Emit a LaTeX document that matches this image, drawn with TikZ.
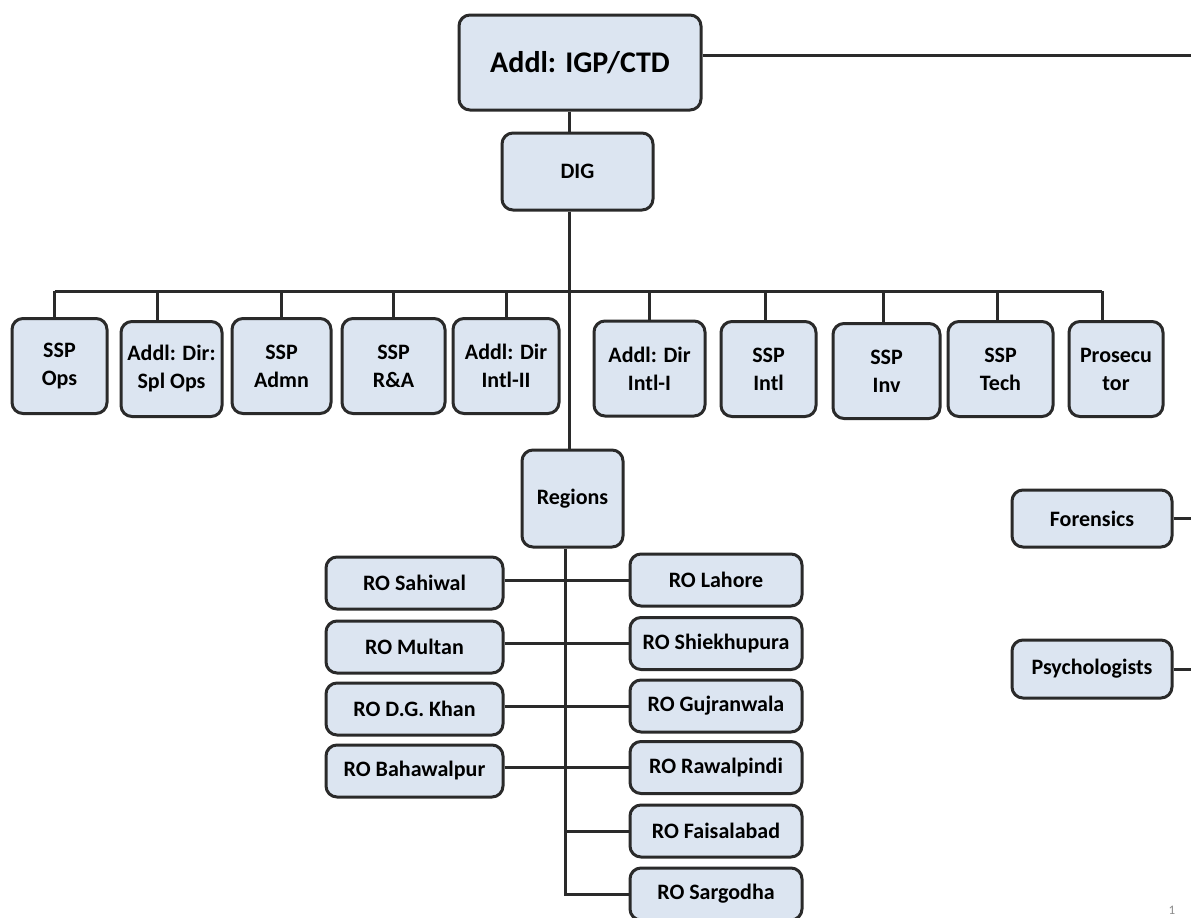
\documentclass[tikz,border=0pt]{standalone}
\usepackage{fontspec}
\setmainfont{Carlito}
\usepackage{tikz}

\definecolor{boxblue}{HTML}{DCE5F1}
\definecolor{boxline}{HTML}{2A2A2A}
\tikzset{
  box/.style={draw=boxline, line width=3pt, rounded corners=11pt, fill=boxblue,
    align=center, inner sep=0pt, font=\fontsize{22}{28}\selectfont\bfseries},
  unit/.style={box, minimum height=95pt},
  ro/.style={box, minimum height=52pt},
  link/.style={draw=boxline, line width=3pt}
}

\begin{document}
\begin{tikzpicture}[x=1pt, y=-1pt]
    \useasboundingbox[fill=white] (0,0) rectangle (1191,918);

    \node[box, minimum width=242pt, minimum height=95pt, font=\fontsize{30}{36}\selectfont\bfseries] (ctd) at (580,62.5) {Addl: IGP/CTD};
    \node[box, minimum width=151pt, minimum height=77pt] (dig) at (577.5,171.5) {DIG};
    \node[box, minimum width=101pt, minimum height=97pt] (regions) at (572.5,498.5) {Regions};

    % top row
    \node[unit, minimum width=95pt]  (ops)   at (59.5,366)   {SSP\\Ops};
    \node[unit, minimum width=101pt] (splops) at (171.5,369) {Addl: Dir:\\Spl Ops};
    \node[unit, minimum width=99pt]  (admn)  at (281.5,366)  {SSP\\Admn};
    \node[unit, minimum width=103pt] (rna)   at (393.5,366)  {SSP\\R\&A};
    \node[unit, minimum width=106pt] (int2)  at (506,366)    {Addl: Dir\\Intl-II};
    \node[unit, minimum width=111pt] (int1)  at (649.5,368.5) {Addl: Dir\\Intl-I};
    \node[unit, minimum width=95pt]  (intl)  at (768.5,369)  {SSP\\Intl};
    \node[unit, minimum width=107pt] (inv)   at (886.5,371)  {SSP\\Inv};
    \node[unit, minimum width=105pt] (tech)  at (1000.5,369) {SSP\\Tech};
    \node[unit, minimum width=94pt]  (pros)  at (1116,369)   {Prosecu\\tor};

    % regional offices
    \node[ro, minimum width=177pt] (sahiwal)    at (414.5,583) {RO Sahiwal};
    \node[ro, minimum width=177pt] (multan)     at (414.5,647) {RO Multan};
    \node[ro, minimum width=177pt] (dgkhan)     at (414.5,709) {RO D.G. Khan};
    \node[ro, minimum width=177pt] (bahawalpur) at (414.5,771) {RO Bahawalpur};
    \node[ro, minimum width=172pt] (lahore)     at (716,580)   {RO Lahore};
    \node[ro, minimum width=172pt] (shiekh)     at (716,643.5) {RO Shiekhupura};
    \node[ro, minimum width=172pt] (gujran)     at (716,706)   {RO Gujranwala};
    \node[ro, minimum width=172pt] (pindi)      at (716,767.5) {RO Rawalpindi};
    \node[ro, minimum width=172pt] (faisal)     at (716,831)   {RO Faisalabad};
    \node[ro, minimum width=172pt] (sargodha)   at (716,894)   {RO Sargodha};

    \node[box, minimum width=160pt, minimum height=57pt] (forensics) at (1092,518.5) {Forensics};
    \node[box, minimum width=160pt, minimum height=58pt] (psych)     at (1092,669)   {Psychologists};

    \node[text=black!45, font=\fontsize{13}{13}\selectfont] (pageno) at (1172,910) {1};

    \coordinate (trunk) at (569,0);
    \coordinate (bus) at (0,291);
    \coordinate (rtrunk) at (565,0);
    \coordinate (edge) at (1191,0);

    \draw[link] ([yshift=7.5pt]ctd.east) -- ([yshift=7.5pt]ctd.east -| edge);
    \draw[link] (ctd.south -| trunk) -- (dig.north -| trunk);
    \draw[link] (dig.south -| trunk) -- (regions.north -| trunk);
    \draw[link] ([xshift=-5pt]ops.north |- bus) -- ([xshift=-14pt]pros.north |- bus);
    \draw[link] ([xshift=-5pt]ops.north |- bus) -- ([xshift=-5pt]ops.north);
    \draw[link] ([xshift=-14pt]splops.north |- bus) -- ([xshift=-14pt]splops.north);
    \draw[link] (admn.north |- bus) -- (admn.north);
    \draw[link] (rna.north |- bus) -- (rna.north);
    \draw[link] (int2.north |- bus) -- (int2.north);
    \draw[link] (int1.north |- bus) -- (int1.north);
    \draw[link] ([xshift=-3pt]intl.north |- bus) -- ([xshift=-3pt]intl.north);
    \draw[link] ([xshift=-3pt]inv.north |- bus) -- ([xshift=-3pt]inv.north);
    \draw[link] ([xshift=-3pt]tech.north |- bus) -- ([xshift=-3pt]tech.north);
    \draw[link] ([xshift=-14pt]pros.north |- bus) -- ([xshift=-14pt]pros.north);

    \draw[link] (regions.south -| rtrunk) -- (sargodha.west -| rtrunk) -- (sargodha.west);
    \draw[link] (sahiwal.east |- lahore.west) -- (lahore.west);
    \draw[link] (multan.east |- shiekh.west) -- (shiekh.west);
    \draw[link] (dgkhan.east |- gujran.west) -- (gujran.west);
    \draw[link] (bahawalpur.east |- pindi.west) -- (pindi.west);
    \draw[link] (faisal.west -| rtrunk) -- (faisal.west);

    \draw[link] (forensics.east) -- (forensics.east -| edge);
    \draw[link] (psych.east) -- (psych.east -| edge);
\end{tikzpicture}
\end{document}
